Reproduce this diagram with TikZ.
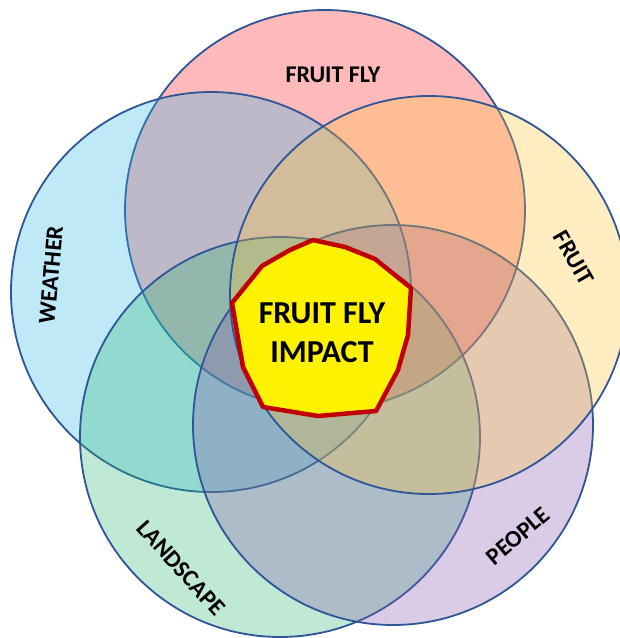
\documentclass[tikz,border=0pt]{standalone}
\usepackage{fontspec}
\setmainfont{Carlito}
\definecolor{cfly}{RGB}{251,28,28}
\definecolor{cweather}{RGB}{45,182,232}
\definecolor{cfruit}{RGB}{255,195,52}
\definecolor{cland}{RGB}{42,182,115}
\definecolor{cpeople}{RGB}{132,85,172}
\definecolor{rim}{RGB}{47,85,151}
\definecolor{core}{RGB}{192,0,0}
\begin{document}
\begin{tikzpicture}[x=1pt,y=-1pt,
  venn/.style={circle, draw=rim, line width=1.8pt, minimum size=400pt, inner sep=0pt, fill opacity=0.3, draw opacity=1},
  lab/.style={font=\fontsize{24}{28}\selectfont\bfseries, inner sep=0pt}]
\useasboundingbox (0,0) rectangle (620,638);
\node[venn, fill=cfly] (fly) at (325,210) {};
\node[venn, fill=cweather] (weather) at (211,292) {};
\node[venn, fill=cland] (land) at (280,437) {};
\node[venn, fill=cpeople] (people) at (393,425) {};
\node[venn, fill=cfruit, minimum size=398pt] (fruit) at (429,295) {};
\draw[draw=core, line width=4.5pt, fill=yellow, line join=round]
  (313,240) -- (345,247) -- (375,259) -- (411,288) -- (408,335) -- (398,370)
  -- (376,411) -- (318,416) -- (263,407) -- (243,367) -- (232,303) -- (262,266)
  -- (290,250) -- cycle;
\node[font=\fontsize{32}{39}\selectfont\bfseries, align=center] (impact) at (322,333) {FRUIT FLY\\IMPACT};
\node[lab] (lfly) at (333,75) {FRUIT FLY};
\node[lab, rotate=85] (lweather) at (51,275) {WEATHER};
\node[lab, rotate=-60] (lfruit) at (574,258) {FRUIT};
\node[lab, rotate=-48] (lland) at (181,568) {LANDSCAPE};
\node[lab, rotate=40] (lpeople) at (518,536) {PEOPLE};
\end{tikzpicture}
\end{document}
